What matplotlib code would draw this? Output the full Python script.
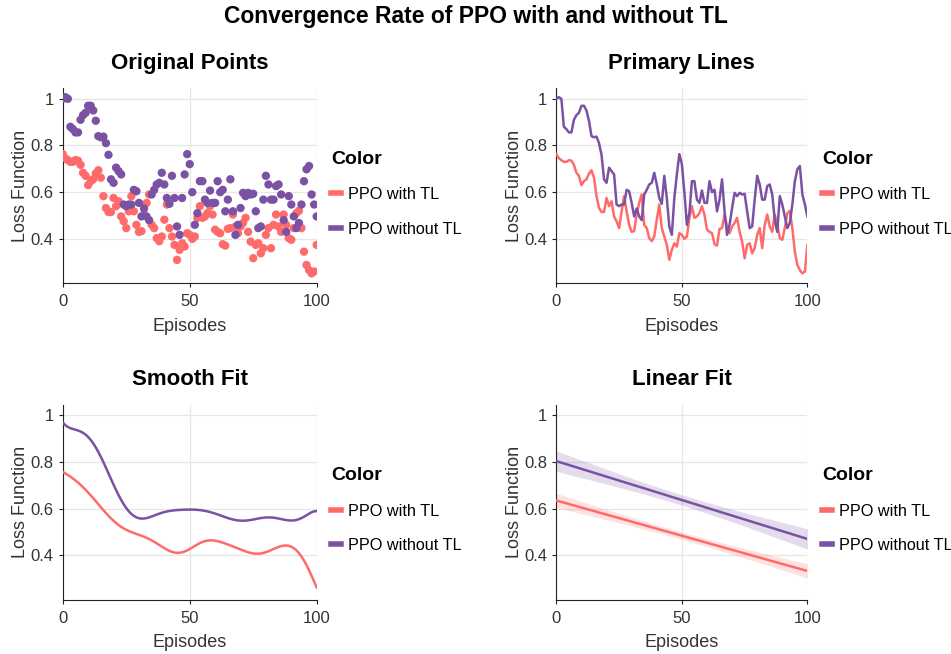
import numpy as np
import matplotlib
matplotlib.use("Agg")
import matplotlib.pyplot as plt
from matplotlib.lines import Line2D

plt.rcParams["font.family"] = ["Liberation Sans", "DejaVu Sans"]

# data
episodes = np.arange(0, 101)
loss_tl = [
    0.763, 0.745, 0.737, 0.730, 0.730, 0.737, 0.735, 0.717, 0.683, 0.670,
    0.630, 0.647, 0.655, 0.680, 0.694, 0.662, 0.583, 0.532, 0.515, 0.515,
    0.575, 0.540, 0.561, 0.496, 0.475, 0.446, 0.518, 0.583, 0.518, 0.460,
    0.430, 0.433, 0.504, 0.554, 0.590, 0.460, 0.446, 0.403, 0.390, 0.410,
    0.482, 0.547, 0.446, 0.410, 0.374, 0.310, 0.353, 0.381, 0.367, 0.424,
    0.417, 0.400, 0.410, 0.490, 0.540, 0.490, 0.496, 0.510, 0.540, 0.504,
    0.439, 0.430, 0.424, 0.377, 0.371, 0.443, 0.446, 0.504, 0.453, 0.424,
    0.453, 0.468, 0.490, 0.430, 0.388, 0.317, 0.374, 0.381, 0.338, 0.360,
    0.417, 0.446, 0.360, 0.460, 0.504, 0.453, 0.430, 0.504, 0.460, 0.403,
    0.396, 0.446, 0.510, 0.520, 0.446, 0.345, 0.288, 0.266, 0.252, 0.260,
    0.374,
]
loss_no_tl = [
    1.000, 1.007, 1.000, 0.880, 0.870, 0.856, 0.856, 0.910, 0.930, 0.940,
    0.970, 0.970, 0.950, 0.906, 0.840, 0.835, 0.838, 0.810, 0.760, 0.655,
    0.640, 0.705, 0.690, 0.676, 0.547, 0.540, 0.547, 0.547, 0.610, 0.604,
    0.554, 0.496, 0.530, 0.496, 0.480, 0.590, 0.610, 0.633, 0.640, 0.683,
    0.633, 0.575, 0.550, 0.670, 0.575, 0.453, 0.417, 0.575, 0.676, 0.763,
    0.720, 0.600, 0.460, 0.510, 0.647, 0.647, 0.568, 0.554, 0.607, 0.554,
    0.554, 0.647, 0.600, 0.610, 0.518, 0.568, 0.655, 0.518, 0.417, 0.460,
    0.532, 0.597, 0.583, 0.597, 0.590, 0.593, 0.518, 0.446, 0.453, 0.568,
    0.670, 0.633, 0.568, 0.568, 0.626, 0.633, 0.590, 0.480, 0.430, 0.583,
    0.547, 0.496, 0.446, 0.468, 0.547, 0.647, 0.698, 0.712, 0.590, 0.547,
    0.496,
]
labels = ["PPO with TL", "PPO without TL"]
colors = ["#FF6B6B", "#7B52A3"]
series = [np.array(loss_tl), np.array(loss_no_tl)]


def smooth(x, y, bw=7.5):
    # local quadratic regression with gaussian weights
    out = []
    for x0 in x:
        w = np.exp(-0.5 * ((x - x0) / bw) ** 2)
        X = np.vstack([np.ones_like(x), x - x0, (x - x0) ** 2]).T
        W = np.diag(w)
        beta = np.linalg.solve(X.T @ W @ X, X.T @ W @ y)
        out.append(beta[0])
    return np.array(out)


def linfit(x, y):
    n = len(x)
    b, a = np.polyfit(x, y, 1)
    pred = a + b * x
    s = np.sqrt(np.sum((y - pred) ** 2) / (n - 2))
    se = s * np.sqrt(1 / n + (x - x.mean()) ** 2 / np.sum((x - x.mean()) ** 2))
    return pred, pred - 1.984 * se, pred + 1.984 * se


fig = plt.figure(figsize=(9.51, 6.54), dpi=100)
fig.suptitle("Convergence Rate of PPO with and without TL", fontsize=16.5,
             fontweight="bold", y=0.992)

positions = [
    [0.066, 0.567, 0.267, 0.298],
    [0.585, 0.567, 0.264, 0.298],
    [0.066, 0.083, 0.267, 0.298],
    [0.585, 0.083, 0.264, 0.298],
]
titles = ["Original Points", "Primary Lines", "Smooth Fit", "Linear Fit"]

x = episodes.astype(float)
for i, pos in enumerate(positions):
    ax = fig.add_axes(pos)
    for y, c in zip(series, colors):
        if i == 0:
            ax.scatter(x, y, s=36, color=c, edgecolors="none", zorder=3)
        elif i == 1:
            ax.plot(x, y, color=c, lw=1.8, zorder=3)
        elif i == 2:
            ax.plot(x, smooth(x, y), color=c, lw=1.8, zorder=3)
        else:
            pred, lo, hi = linfit(x, y)
            ax.fill_between(x, lo, hi, color=c, alpha=0.2, lw=0, zorder=2)
            ax.plot(x, pred, color=c, lw=1.8, zorder=3)

    ax.set_title(titles[i], fontsize=16, fontweight="bold", pad=14)
    ax.set_xlim(0, 100)
    ax.set_ylim(0.21, 1.045)
    ax.set_xticks([0, 50, 100])
    ax.set_yticks([0.4, 0.6, 0.8, 1.0])
    ax.set_yticklabels(["0.4", "0.6", "0.8", "1"])
    ax.set_xlabel("Episodes", fontsize=13, color="#333333", labelpad=6)
    ax.set_ylabel("Loss Function", fontsize=13, color="#333333", labelpad=1)
    ax.tick_params(labelsize=12, labelcolor="#333333", length=3, color="#222222")
    ax.tick_params(axis="x", pad=5)
    ax.grid(True, color="#e6e6e6", lw=0.9)
    ax.set_axisbelow(True)
    for side in ["top", "right"]:
        ax.spines[side].set_visible(False)
    for side in ["left", "bottom"]:
        ax.spines[side].set_color("#222222")

    handles = [Line2D([0], [0], color=c, lw=4) for c in colors]
    leg = ax.legend(handles, labels, title="Color", loc="center left",
                    bbox_to_anchor=(1.0, 0.46), frameon=False, fontsize=11.7,
                    handlelength=0.6, handletextpad=0.45, labelspacing=1.2)
    leg.get_title().set_fontweight("bold")
    leg.get_title().set_fontsize(14)
    leg._legend_box.align = "left"

fig.savefig("out.png", dpi=100)
